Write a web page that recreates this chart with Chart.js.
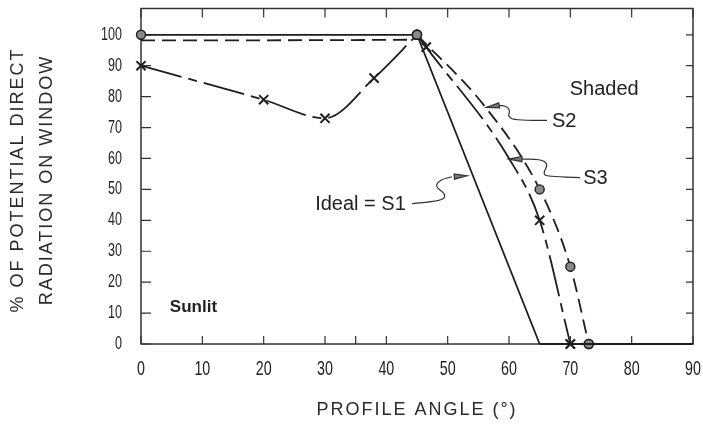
<!DOCTYPE html>
<html><head><meta charset="utf-8">
<script src="https://cdn.jsdelivr.net/npm/chart.js@4"></script>
<style>html,body{margin:0;padding:0;background:#fff}#wrap{width:703px;height:427px;position:relative}</style>
</head><body><div id="wrap"><canvas id="c"></canvas></div>
<script>
// ---- data ----
const xTicks = [0,10,20,30,40,50,60,70,80,90];
const xMinorTicks = [35];
const yTicks = [0,10,20,30,40,50,60,70,80,90,100];

// Ideal = S1 (solid)
const s1X = [0, 45, 65, 90];
const s1Y = [100, 100, 0, 0];
const s1Marked = [1, 1, 0, 0];

// S2 (dashed, circles)
const s2X = [0, 44, 45, 56, 65, 70, 73, 90];
const s2Y = [98.2, 98.4, 100, 77, 50, 25, 0, 0];
const s2Marked = [0, 0, 1, 0, 1, 1, 1, 0];

// S3 (dash-dot, crosses)
const s3X = [0, 20, 30, 38, 45, 46.5, 60, 65, 70, 90];
const s3Y = [90, 79, 73, 86, 100, 96, 60, 40, 0, 0];
const s3Marked = [1, 1, 1, 1, 0, 1, 0, 1, 1, 0];

const xTitle = 'PROFILE ANGLE (°)';
const yTitle = ['% OF POTENTIAL DIRECT', 'RADIATION ON WINDOW'];

const labels = [
  {text: 'Shaded', x: 69.9, y: 82.2},
  {text: 'S2', x: 67.0, y: 72.0},
  {text: 'S3', x: 72.1, y: 53.4},
  {text: 'Ideal = S1', x: 28.4, y: 45.1},
  {text: 'Sunlit', x: 4.7, y: 11.8, bold: true}
];
const leaders = [
  {path: [[66.2,72.3],[61.0,72.3],[59.8,73.6],[60.2,75.5],[59.5,77.1],[58.2,77.1]], tip: [56.3,76.5]},
  {path: [[71.6,53.8],[66.4,54.1],[65.5,55.0],[66.4,58.2],[65.1,59.8],[61.8,59.8]], tip: [60.0,59.8]},
  {path: [[44.2,45.4],[49.2,46.1],[49.7,48.6],[47.9,50.9],[48.8,53.1],[50.7,54.1]], tip: [53.2,54.4]}
];

// ---- build ----
const INK = '#1e1e1e';
const toPts = (xs, ys) => xs.map((x, i) => ({x, y: ys[i]}));

// split a curve into: rise part (to the peak), fall part (peak to first zero), tail (flat zero)
function pieces(xs, ys) {
  const peak = ys.lastIndexOf(Math.max(...ys));
  let zero = ys.findIndex((v, i) => i > peak && v === 0);
  if (zero < 0) zero = ys.length - 1;
  return [[0, peak], [peak, zero], [zero, ys.length - 1]];
}

function series(name, xs, ys, marked, o) {
  const pts = toPts(xs, ys);
  return pieces(xs, ys).filter(([a, b]) => b > a).map(([a, b], k) => ({
    type: 'line',
    label: name,
    data: pts.slice(a, b + 1),
    borderColor: INK,
    borderWidth: 1.8,
    borderDash: o.dash || [],
    fill: false,
    clip: false,
    tension: 0,
    cubicInterpolationMode: (o.smooth && k < 2) ? 'monotone' : 'default',
    pointStyle: o.style,
    pointRadius: ctx => marked[a + ctx.dataIndex] ? o.r : 0,
    pointHoverRadius: 0,
    pointBorderColor: INK,
    pointBackgroundColor: '#8a8a8a',
    pointBorderWidth: o.pbw || 1.4
  }));
}

function condensedText(ctx, text, x, y, sx, align) {
  ctx.save();
  ctx.translate(x, y);
  ctx.scale(sx, 1);
  ctx.textAlign = align;
  ctx.fillText(text, 0, 0);
  ctx.restore();
}

const framePlugin = {
  id: 'frame',
  beforeDatasetsDraw(chart) {
    const {ctx, chartArea: a, scales: {x, y}} = chart;
    ctx.save();
    ctx.strokeStyle = '#333';
    ctx.lineWidth = 1.5;
    ctx.strokeRect(a.left, a.top, a.right - a.left, a.bottom - a.top);
    ctx.lineWidth = 1.2;
    ctx.beginPath();
    xTicks.concat(xMinorTicks).forEach(v => {
      const px = x.getPixelForValue(v);
      ctx.moveTo(px, a.bottom); ctx.lineTo(px, a.bottom - 8);
    });
    xTicks.forEach(v => {
      const px = x.getPixelForValue(v);
      ctx.moveTo(px, a.top); ctx.lineTo(px, a.top + 9);
    });
    yTicks.forEach(v => {
      const py = y.getPixelForValue(v);
      ctx.moveTo(a.left, py); ctx.lineTo(a.left + 10, py);
      ctx.moveTo(a.right, py); ctx.lineTo(a.right - 7, py);
    });
    ctx.stroke();
    // tick labels (tall, condensed digits)
    ctx.fillStyle = '#222';
    ctx.textBaseline = 'middle';
    ctx.font = '21px "Liberation Sans", Arial, sans-serif';
    xTicks.forEach(v => condensedText(ctx, String(v), x.getPixelForValue(v), a.bottom + 25, 0.68, 'center'));
    ctx.font = '18.5px "Liberation Sans", Arial, sans-serif';
    yTicks.forEach(v => condensedText(ctx, String(v), a.left - 19, y.getPixelForValue(v), 0.68, 'right'));
    ctx.restore();
  },
  afterDatasetsDraw(chart) {
    const {ctx, chartArea: a, scales: {x, y}} = chart;
    const P = p => [x.getPixelForValue(p[0]), y.getPixelForValue(p[1])];
    ctx.save();
    ctx.fillStyle = '#222';
    ctx.textBaseline = 'middle';
    ctx.textAlign = 'left';
    labels.forEach(l => {
      ctx.font = l.bold ? 'bold 17px "Liberation Sans", Arial, sans-serif' : '20px "Liberation Sans", Arial, sans-serif';
      ctx.fillText(l.text, x.getPixelForValue(l.x), y.getPixelForValue(l.y));
    });
    // leaders
    ctx.strokeStyle = '#333';
    ctx.lineWidth = 1.2;
    leaders.forEach(L => {
      const pts = L.path.map(P);
      ctx.beginPath();
      ctx.moveTo(pts[0][0], pts[0][1]);
      for (let i = 1; i < pts.length - 1; i++) {
        const mx = (pts[i][0] + pts[i+1][0]) / 2, my = (pts[i][1] + pts[i+1][1]) / 2;
        ctx.quadraticCurveTo(pts[i][0], pts[i][1], mx, my);
      }
      const last = pts[pts.length - 1];
      ctx.lineTo(last[0], last[1]);
      ctx.stroke();
      const t = P(L.tip);
      const ang = Math.atan2(t[1] - last[1], t[0] - last[0]);
      ctx.save();
      ctx.translate(t[0], t[1]);
      ctx.rotate(ang);
      ctx.beginPath();
      ctx.moveTo(0, 0);
      ctx.lineTo(-13, -2.6);
      ctx.lineTo(-13, 2.6);
      ctx.closePath();
      ctx.fillStyle = '#777';
      ctx.fill();
      ctx.stroke();
      ctx.restore();
    });
    // axis titles
    ctx.fillStyle = '#2a2a2a';
    ctx.font = '18px "Liberation Sans", Arial, sans-serif';
    ctx.letterSpacing = '2px';
    ctx.textAlign = 'center';
    ctx.fillText(xTitle, (a.left + a.right) / 2, 410);
    ctx.save();
    ctx.translate(18, 180);
    ctx.rotate(-Math.PI / 2);
    yTitle.forEach((t, i) => ctx.fillText(t, 0, i * 29));
    ctx.restore();
    ctx.letterSpacing = '0px';
    ctx.restore();
  }
};

new Chart(document.getElementById('c'), {
  data: {
    datasets: [
      ...series('Ideal = S1', s1X, s1Y, s1Marked, {r: 4.5, style: 'circle', smooth: false}),
      ...series('S2', s2X, s2Y, s2Marked, {r: 4.5, style: 'circle', smooth: true, dash: [14, 7]}),
      ...series('S3', s3X, s3Y, s3Marked, {r: 6.5, style: 'crossRot', smooth: true, dash: [42, 7, 9, 7], pbw: 2})
    ]
  },
  options: {
    responsive: true,
    maintainAspectRatio: false,
    animation: false,
    events: [],
    layout: {padding: {left: 0, right: 10, top: 5, bottom: 0}},
    plugins: {legend: {display: false}, tooltip: {enabled: false}},
    scales: {
      x: {
        type: 'linear', min: 0, max: 90,
        afterBuildTicks: s => { s.ticks = xTicks.map(v => ({value: v})); },
        afterFit: s => { s.height = 83; },
        grid: {display: false, drawTicks: false},
        border: {display: false},
        ticks: {display: false}
      },
      y: {
        type: 'linear', min: 0, max: 108.5,
        afterBuildTicks: s => { s.ticks = yTicks.map(v => ({value: v})); },
        afterFit: s => { s.width = 141; },
        grid: {display: false, drawTicks: false},
        border: {display: false},
        ticks: {display: false}
      }
    }
  },
  plugins: [framePlugin]
});
</script>
</body></html>
